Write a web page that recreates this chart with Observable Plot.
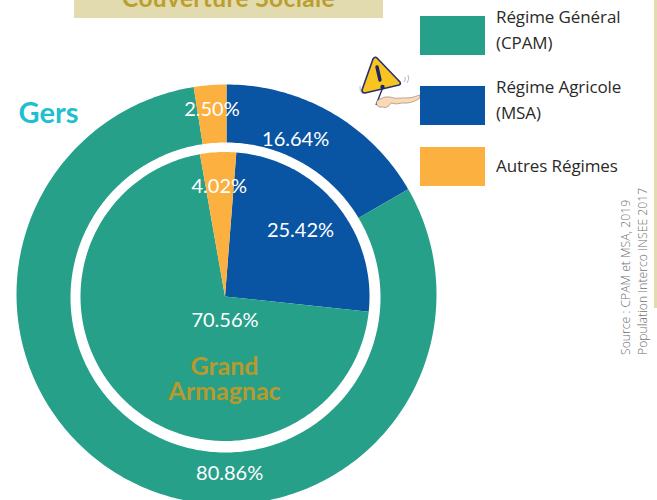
<!DOCTYPE html>
<html><head><meta charset="utf-8">
<script src="https://cdn.jsdelivr.net/npm/d3@7"></script>
<script src="https://cdn.jsdelivr.net/npm/@observablehq/plot@0.6"></script>
<style>
html,body{margin:0;padding:0;background:#fff;}
#page{position:relative;width:657px;height:500px;overflow:hidden;font-family:Lato,sans-serif;}
#page svg.plot{position:absolute;left:0;top:0;}
.title{position:absolute;left:74px;top:0;width:309px;height:18px;background:#e3dbb0;overflow:hidden;}
.title span{position:absolute;left:0;right:0;top:-17px;text-align:center;font-size:24.5px;line-height:30px;font-weight:700;color:#bb9f2d;white-space:nowrap;letter-spacing:.35px;}
.rule{position:absolute;left:654px;top:0;width:3px;height:308px;background:#e3dbb0;}
.sw{position:absolute;left:420px;width:65px;height:39px;}
.lg{position:absolute;left:496px;font-family:"Open Sans",sans-serif;font-size:17px;line-height:25.5px;color:#2b2a29;white-space:nowrap;letter-spacing:-.1px;}
.src{position:absolute;left:617px;top:355px;transform-origin:0 0;transform:rotate(-90deg);font-family:"Open Sans",sans-serif;font-weight:300;font-size:12.2px;line-height:17px;color:#6f6f6f;white-space:nowrap;}
.icon{position:absolute;left:355px;top:55px;}
</style></head><body>
<div id="page"></div>
<script>
const categories = ["Régime Général (CPAM)", "Régime Agricole (MSA)", "Autres Régimes"];
const colors = ["#27a08a", "#0a55a3", "#fbb03f"];
const gersValues = [80.86, 16.64, 2.50];
const armagnacValues = [70.56, 25.42, 4.02];
const gersLabels = ["80.86%", "16.64%", "2.50%"];
const armagnacLabels = ["70.56%", "25.42%", "4.02%"];
const title = "Couverture Sociale";
const gersName = "Gers";
const armagnacName = ["Grand", "Armagnac"];
const source = ["Source : CPAM et MSA, 2019", "Population Interco INSEE 2017"];

// Wedges: angle is clockwise from north, in degrees
function wedges(values, order, startDeg, cx, cy, r) {
  const pts = [];
  let a = startDeg;
  for (const i of order) {
    const span = values[i] * 3.6;
    const n = Math.max(2, Math.ceil(span));
    pts.push({k: i, x: cx, y: cy});
    for (let s = 0; s <= n; s++) {
      const t = (a + span * s / n) * Math.PI / 180;
      pts.push({k: i, x: cx + r * Math.sin(t), y: cy - r * Math.cos(t)});
    }
    pts.push({k: i, x: cx, y: cy});
    a += span;
  }
  return pts;
}
const order = [1, 0, 2];
const outer = wedges(gersValues, order, 0, 226, 294, 210);
const white = wedges([100], [0], 0, 225, 297, 155);
const inner = wedges(armagnacValues, order, 4.5, 224.5, 296, 144.5).map(d => ({...d}));

const wedgeMark = (pts, fill) => Plot.line(pts, {x: "x", y: "y", z: "k", fill, stroke: "none", curve: "linear"});

const at = (cx, cy, deg, r) => ({x: cx + r * Math.sin(deg * Math.PI / 180), y: cy - r * Math.cos(deg * Math.PI / 180)});
const labels = [
  {t: gersLabels[0], ...at(226, 294, 179, 179.5)},
  {t: gersLabels[1], ...at(226, 294, 24, 170)},
  {t: gersLabels[2], ...at(226, 294, -4.5, 185)},
  {t: armagnacLabels[0], ...at(224.5, 296, 180, 24)},
  {t: armagnacLabels[1], ...at(224.5, 296, 49, 100)},
  {t: armagnacLabels[2], ...at(224.5, 296, -3, 110)}
];

const chart = Plot.plot({
  width: 657, height: 500,
  margin: 0,
  x: {domain: [0, 657], range: [0, 657], axis: null},
  y: {domain: [0, 500], range: [0, 500], axis: null},
  style: {background: "transparent"},
  marks: [
    wedgeMark(outer, d => colors[d.k]),
    wedgeMark(white, () => "#ffffff"),
    wedgeMark(inner, d => colors[d.k]),
    Plot.text(labels, {x: "x", y: "y", text: "t", fill: "white", fontSize: 20, fontFamily: "Lato, sans-serif", textAnchor: "middle"}),
    Plot.text([gersName], {x: () => 48, y: () => 113, text: d => d, fill: "#1dbfd0", fontSize: 29, fontWeight: 700, fontFamily: "Lato, sans-serif"}),
    Plot.text(armagnacName, {x: () => 224, y: (d, i) => 366 + i * 25, text: d => d, fill: "#b89a2a", fontSize: 25, fontWeight: 700, fontFamily: "Lato, sans-serif"})
  ]
});
const page = document.getElementById("page");
page.appendChild(chart);

const add = (cls, html, css) => {
  const el = document.createElement("div");
  el.className = cls;
  el.innerHTML = html;
  if (css) el.style.cssText = css;
  page.appendChild(el);
};
add("title", `<span>${title}</span>`);
add("rule", "");
const legendTop = [16, 86, 147];
const legendText = [[16, 4], [86, 74], [147, 153]];
categories.forEach((c, i) => {
  const sw = document.createElement("div");
  sw.className = "sw";
  sw.style.top = legendTop[i] + "px";
  sw.style.background = colors[i];
  page.appendChild(sw);
  const m = c.match(/^(.*) (\(.*\))$/);
  const lg = document.createElement("div");
  lg.className = "lg";
  lg.style.top = legendText[i][1] + "px";
  lg.innerHTML = m ? m[1] + "<br>" + m[2] : c;
  page.appendChild(lg);
});
add("src", source.join("<br>"));
add("icon", `<svg width="65" height="60" viewBox="0 0 65 60">
  <g fill="none" stroke="#9a9ab0" stroke-width=".7"><path d="M5 31q-1 5 3 8M9 30q-1 3 2 6M53 20q2 4-1 8M50 22q1 3 -1 5"/></g>
  <path d="M21 50L28 32" stroke="#2a2f6b" stroke-width="1.4"/>
  <path d="M22 2L45 26Q46 28 44 29L10 37Q7 37 7 34L18 3Q20 0 22 2Z" fill="#f8c421" stroke="#2a2f6b" stroke-width="1.6" stroke-linejoin="round" transform="translate(0,1)"/>
  <path d="M22 12l3 13" stroke="#1e2462" stroke-width="3.4" stroke-linecap="round"/><circle cx="27.5" cy="32" r="2.2" fill="#1e2462"/>
  <path d="M65 43q-8 6-18 5q-6 2-11 0q-4 6-8 4q-5 1-6-2q-2-4 3-6q5-3 10-2q5 2 11 1q10 1 19-3z" fill="#fbd9b5" stroke="#8a7a70" stroke-width=".6"/>
</svg>`);
</script>
</body></html>
